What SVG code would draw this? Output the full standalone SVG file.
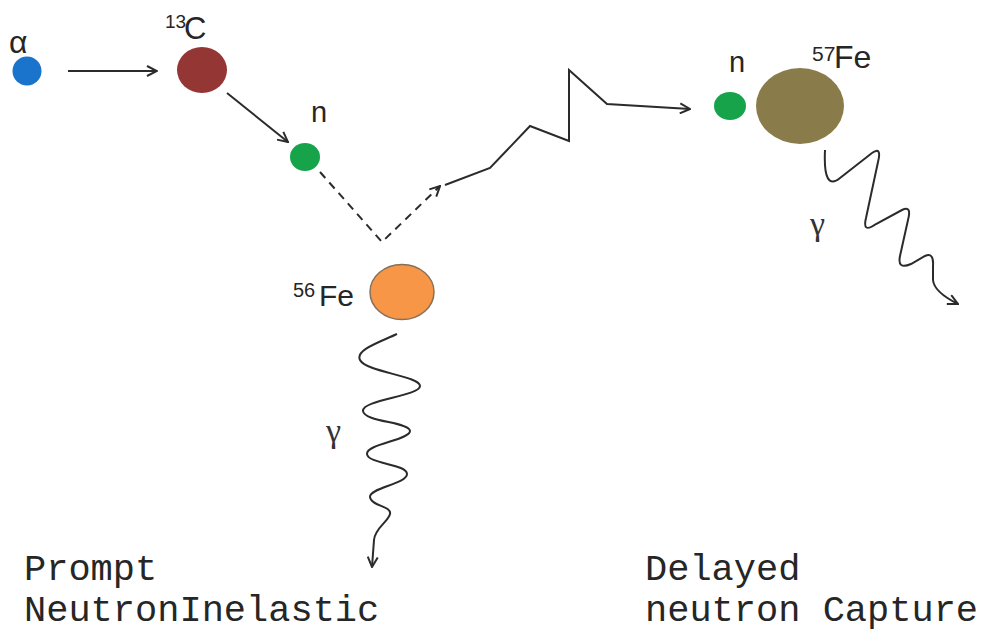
<svg xmlns="http://www.w3.org/2000/svg" width="987" height="639" viewBox="0 0 987 639">
<style>
.lbl{font-family:"Liberation Sans",Arial,sans-serif;fill:#262626}
.greek{font-family:"Liberation Serif","Times New Roman",serif;fill:#333}
.mono{font-family:"Liberation Mono","Courier New",monospace;font-size:37px;fill:#262626}
.ln{fill:none;stroke:#2b2b2b;stroke-width:2}
.dash{stroke-dasharray:8 6}
</style>
<defs>
<marker id="ah" viewBox="0 0 12 12" refX="11" refY="6" markerWidth="12" markerHeight="12" markerUnits="userSpaceOnUse" orient="auto">
<path d="M1,1 L11,6 L1,11" fill="none" stroke="#2b2b2b" stroke-width="2"/>
</marker>
</defs>
<rect width="987" height="639" fill="#fff"/>
<g id="connectors">
<line class="ln" x1="68" y1="71" x2="157" y2="71" marker-end="url(#ah)"/>
<line class="ln" x1="227" y1="93" x2="288" y2="142" marker-end="url(#ah)"/>
<path class="ln dash" d="M320,172 L382,242 L440,186" marker-end="url(#ah)"/>
<path class="ln" d="M445,185 L490,168 L530,126 L569,141 L569,70 L607,104 L690,109" marker-end="url(#ah)"/>
<path class="ln" d="M397,334 C380,342 355,350 360,360 C366,372 420,376 420,386 C420,396 362,400 363,411 C364,422 410,422 410,431 C410,440 366,444 367,454 C368,464 407,464 407,474 C407,484 369,488 370,497 C371,506 392,506 390,514 C388,522 375,528 374,540 L372,567" marker-end="url(#ah)"/>
<path class="ln" d="M825,150 Q823,192 840,178 L872,153 Q882,146 878,162 L866,218 Q862,234 876,224 L902,210 Q912,205 908,220 L900,256 Q897,270 911,264 L925,256 Q934,252 933,266 L933,280 Q934,292 958,304" marker-end="url(#ah)"/>
</g>
<g id="alpha">
<circle cx="27" cy="71" r="14.5" fill="#1b74cc"/>
<text class="lbl" x="9" y="53" font-size="32">α</text>
</g>
<g id="c13">
<ellipse cx="202" cy="70" rx="25" ry="23" fill="#943634"/>
<text class="lbl" x="165" y="28" font-size="19">13</text>
<text class="lbl" x="184" y="39" font-size="31">C</text>
</g>
<g id="n1">
<ellipse cx="305" cy="157" rx="15" ry="14" fill="#16a34a"/>
<text class="lbl" x="311" y="122" font-size="29">n</text>
</g>
<g id="fe56">
<ellipse cx="402" cy="292" rx="32" ry="27.5" fill="#f79646" stroke="#86705a" stroke-width="1.5"/>
<text class="lbl" x="293" y="297" font-size="20">56</text>
<text class="lbl" x="319" y="306" font-size="30">Fe</text>
</g>
<g id="n2">
<ellipse cx="730" cy="106" rx="16" ry="14" fill="#16a34a"/>
<text class="lbl" x="729" y="72" font-size="29">n</text>
</g>
<g id="fe57">
<ellipse cx="800" cy="106" rx="44" ry="38" fill="#8a7c4a"/>
<text class="lbl" x="812" y="61" font-size="21">57</text>
<text class="lbl" x="834" y="68" font-size="32">Fe</text>
</g>
<g id="gamma1">
<text class="greek" x="326" y="442" font-size="34">γ</text>
</g>
<g id="gamma2">
<text class="greek" x="810" y="235" font-size="34">γ</text>
</g>
<g id="captions">
<text class="mono" x="24" y="580">Prompt</text>
<text class="mono" x="24" y="621">NeutronInelastic</text>
<text class="mono" x="645" y="580">Delayed</text>
<text class="mono" x="645" y="621">neutron Capture</text>
</g>
</svg>
